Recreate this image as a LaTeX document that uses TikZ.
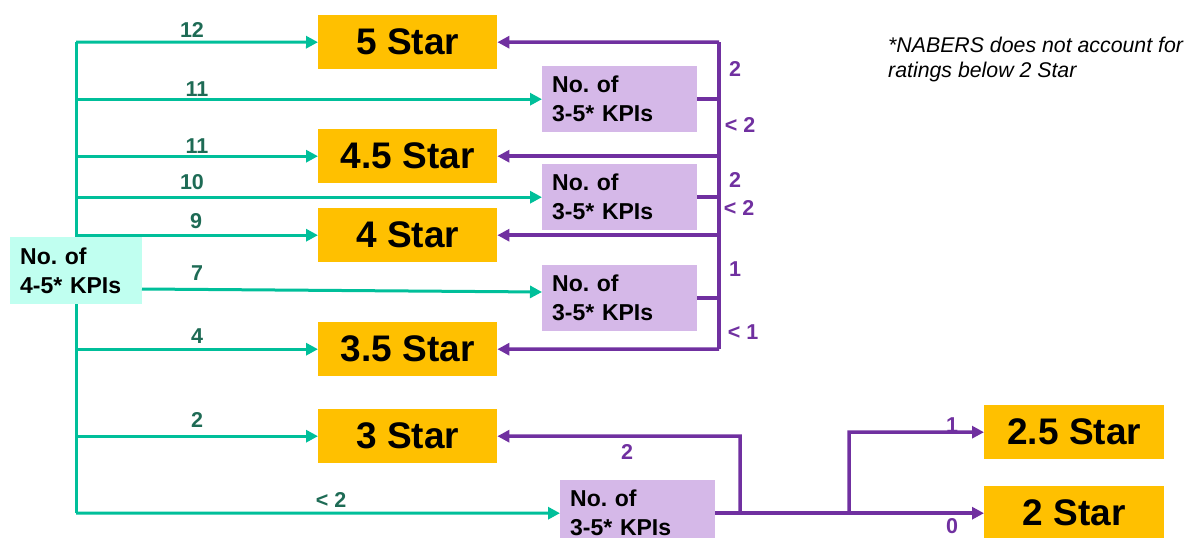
\documentclass[tikz,border=0pt]{standalone}
\usepackage{fontspec}
\setmainfont{Liberation Sans}
\usetikzlibrary{arrows.meta}
\frenchspacing
\definecolor{starorange}{HTML}{FFC000}
\definecolor{kpipurple}{HTML}{D5B8E8}
\definecolor{kpicyan}{HTML}{C0FFF0}
\definecolor{gline}{HTML}{00BF9A}
\definecolor{gtext}{HTML}{1E6B55}
\definecolor{pline}{HTML}{7030A0}
\tikzset{
  starbox/.style={fill=starorange, minimum width=179pt, minimum height=54pt, inner sep=0pt,
    anchor=north west, font=\bfseries\fontsize{37}{40}\selectfont},
  kpibox/.style={fill=kpipurple, minimum width=155pt, minimum height=66pt, text width=135pt,
    inner xsep=10pt, inner ysep=0pt, align=left, anchor=north west,
    font=\bfseries\fontsize{23}{29}\selectfont},
  gwire/.style={draw=gline, line width=3pt},
  garrow/.style={gwire, -{Triangle[length=12pt,width=12pt]}},
  pwire/.style={draw=pline, line width=3.5pt},
  parrow/.style={pwire, -{Triangle[length=12pt,width=12pt]}},
  glab/.style={text=gtext, anchor=base, font=\bfseries\fontsize{21.5}{24}\selectfont, inner sep=0pt},
  plab/.style={text=pline, anchor=base, font=\bfseries\fontsize{21.5}{24}\selectfont, inner sep=0pt},
}
\begin{document}
\begin{tikzpicture}[x=1pt,y=-1pt]
\useasboundingbox (0,0) rectangle (1184,538);
% star boxes
\node[starbox] (s5) at (318,15) {5 Star};
\node[starbox] (s45) at (318,129) {4.5 Star};
\node[starbox] (s4) at (318,208) {4 Star};
\node[starbox] (s35) at (318,322) {3.5 Star};
\node[starbox] (s3) at (318,409) {3 Star};
\node[starbox, minimum width=180pt] (s25) at (984,405) {2.5 Star};
\node[starbox, minimum width=180pt] (s2) at (984,486) {2 Star};
% kpi boxes
\node[kpibox] (k1) at (542,66) {No. of\\3-5* KPIs};
\node[kpibox] (k2) at (542,164) {No. of\\3-5* KPIs};
\node[kpibox] (k3) at (542,265) {No. of\\3-5* KPIs};
\node[kpibox] (k4) at (560,480) {No. of\\3-5* KPIs};
\node[kpibox, fill=kpicyan, text width=112pt, minimum width=132pt, minimum height=67pt] (c) at (10,237) {No. of\\4-5* KPIs};
% green tree
\coordinate (gt) at (76,42);
\coordinate (gb) at (76,513);
\draw[gwire] (gt) -- (c.north -| gt);
\draw[gwire] (c.south -| gt) -- (gb);
\draw[garrow] (gt) -- (s5.west);
\draw[garrow] (gt |- k1.west) -- (k1.west);
\draw[garrow] (gt |- s45.west) -- (s45.west);
\draw[garrow] (gt |- k2.west) -- (k2.west);
\draw[garrow] (gt |- s4.west) -- (s4.west);
\coordinate (g7s) at (142,289);
\coordinate (g7e) at (542,292);
\draw[garrow] (g7s) -- (g7e);
\draw[garrow] (gt |- s35.west) -- (s35.west);
\draw[garrow] (gt |- s3.west) -- (s3.west);
\draw[garrow] (gb) -- (k4.west);
% green labels
\node[glab] (l12) at (192,37) {12};
\node[glab] (l11a) at (197,96) {11};
\node[glab] (l11b) at (197,153) {11};
\node[glab] (l10) at (192,189) {10};
\node[glab] (l9) at (196,228) {9};
\node[glab] (l7) at (197,280) {7};
\node[glab] (l4) at (197,343) {4};
\node[glab] (l2) at (197,427) {2};
\node[glab] (llt2) at (331,507) {< 2};
% purple bus
\coordinate (pt) at (719,42);
\coordinate (pb) at (719,349);
\draw[pwire] (pt) -- (pb);
\draw[parrow] (pt) -- (s5.east);
\draw[pwire] (k1.east) -- (k1.east -| pt);
\draw[parrow] (pt |- s45.east) -- (s45.east);
\draw[pwire] (k2.east) -- (k2.east -| pt);
\draw[parrow] (pt |- s4.east) -- (s4.east);
\draw[pwire] (k3.east) -- (k3.east -| pt);
\draw[parrow] (pb) -- (s35.east);
% purple labels
\node[plab] (p2a) at (735,76) {2};
\node[plab] (p2b) at (740,132) {< 2};
\node[plab] (p2c) at (735,187) {2};
\node[plab] (p2d) at (739,215) {< 2};
\node[plab] (p1a) at (735,276) {1};
\node[plab] (p1b) at (743,339) {< 1};
% bottom purple
\coordinate (j1) at (740,436);
\coordinate (j2) at (849,432);
\draw[pwire] (k4.east) -- (k4.east -| j2);
\draw[parrow] (k4.east -| j1) -- (j1) -- (s3.east);
\draw[parrow] (k4.east -| j2) -- (j2) -- (s25.west);
\draw[parrow] (k4.east -| j2) -- (s2.west);
\node[plab] (pb2) at (627,459) {2};
\node[plab] (pb1) at (952,432) {1};
\node[plab] (pb0) at (952,533) {0};
% note
\node[anchor=north west, inner sep=0pt, align=left, font=\itshape\fontsize{21.3}{25}\selectfont] (note) at (888,37)
  {*NABERS does not account for\\ratings below 2 Star};
\end{tikzpicture}
\end{document}
